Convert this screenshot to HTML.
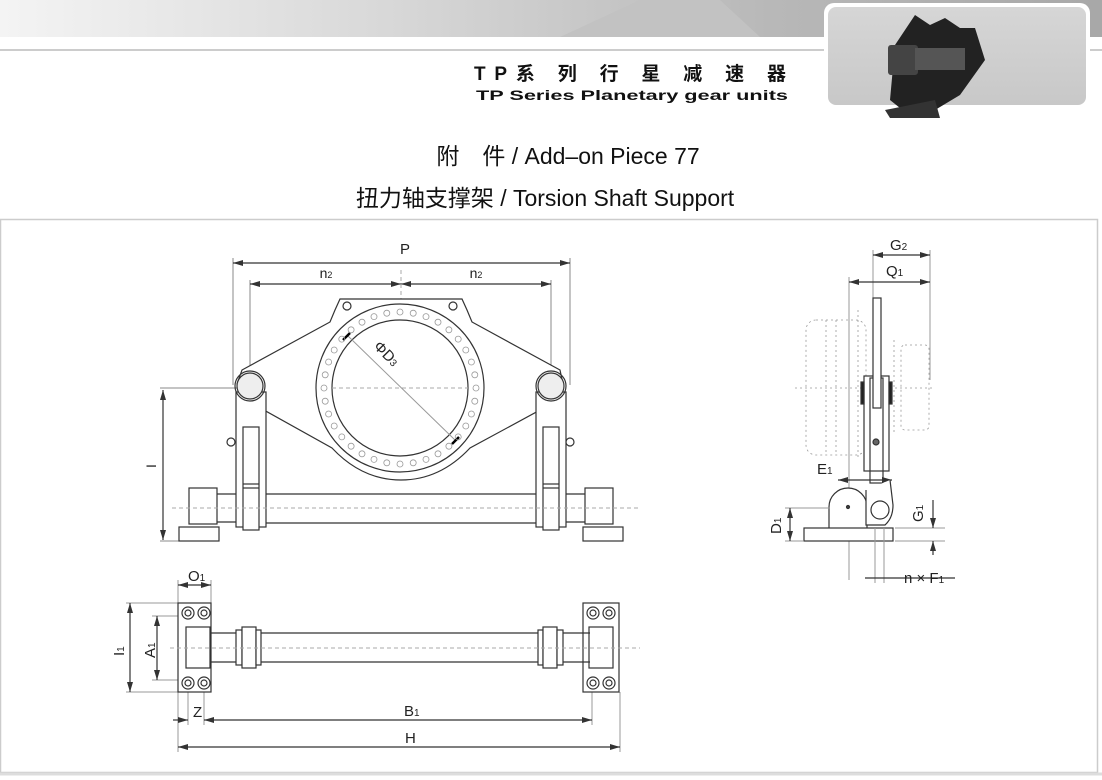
<!DOCTYPE html>
<html><head><meta charset="utf-8"><style>
html,body{margin:0;padding:0;background:#fff}
body{width:1102px;height:780px;overflow:hidden;position:relative;font-family:"Liberation Sans","Noto Sans CJK SC",sans-serif}
</style></head><body>
<svg width="1102" height="780" viewBox="0 0 1102 780" xmlns="http://www.w3.org/2000/svg" style="position:absolute;left:0;top:0">
<defs>
<linearGradient id="hg" x1="0" x2="1" y1="0" y2="0">
<stop offset="0" stop-color="#f4f4f4"/><stop offset="0.35" stop-color="#d8d8d8"/><stop offset="0.7" stop-color="#b8b8b8"/><stop offset="1" stop-color="#a8a8a8"/></linearGradient>
<linearGradient id="bg2" x1="0" x2="0" y1="0" y2="1"><stop offset="0" stop-color="#d6d6d6"/><stop offset="1" stop-color="#c8c8c8"/></linearGradient>
<marker id="a" viewBox="0 0 10 6" refX="10" refY="3" markerWidth="10" markerHeight="6" markerUnits="userSpaceOnUse" orient="auto-start-reverse"><path d="M0 0 L10 3 L0 6Z" fill="#333"/></marker>
</defs>
<rect x="0" y="0" width="1102" height="37" fill="url(#hg)"/>
<path d="M560 37 L640 0 L720 0 L760 37Z" fill="#c2c2c2"/>
<line x1="0" y1="50" x2="1102" y2="50" stroke="#ccc" stroke-width="2"/>
<rect x="824" y="3" width="266" height="106" rx="10" fill="#fff"/>
<rect x="828" y="7" width="258" height="98" rx="8" fill="url(#bg2)"/>
<g fill="#222">
<path d="M895 45 L915 15 L930 25 L945 18 L960 28 L975 28 L985 60 L960 95 L935 110 L905 112 L890 100 Z"/>
<rect x="888" y="45" width="30" height="30" rx="3" fill="#444"/>
<rect x="915" y="48" width="50" height="22" fill="#555"/>
<path d="M885 110 L935 100 L940 118 L890 118Z" fill="#333"/>
</g>
<text x="630" y="80" font-size="19" font-weight="bold" text-anchor="middle" fill="#111" textLength="312" lengthAdjust="spacing">TP系 列 行 星 减 速 器</text>
<text x="632" y="100" font-size="14" font-weight="bold" text-anchor="middle" fill="#111" textLength="312" lengthAdjust="spacingAndGlyphs">TP Series Planetary gear units</text>
<text x="568" y="164" font-size="23" text-anchor="middle" fill="#111">附　件 / Add–on Piece 77</text>
<text x="545" y="206" font-size="23" text-anchor="middle" fill="#111">扭力轴支撑架 / Torsion Shaft Support</text>
<rect x="0.5" y="219.5" width="1097" height="553" fill="none" stroke="#ccc" stroke-width="1.5"/>

<g stroke="#333" fill="none" stroke-width="1.2">
<line x1="233" y1="258" x2="233" y2="385" stroke="#888" stroke-width="1"/><line x1="570" y1="258" x2="570" y2="385" stroke="#888" stroke-width="1"/>
<line x1="233" y1="263" x2="570" y2="263" marker-start="url(#a)" marker-end="url(#a)"/>
<line x1="250" y1="280" x2="250" y2="380" stroke="#888" stroke-width="1"/><line x1="551" y1="280" x2="551" y2="380" stroke="#888" stroke-width="1"/>
<line x1="250" y1="284" x2="401" y2="284" marker-start="url(#a)" marker-end="url(#a)"/>
<line x1="401" y1="284" x2="551" y2="284" marker-start="url(#a)" marker-end="url(#a)"/>
<line x1="401" y1="270" x2="401" y2="475" stroke="#aaa" stroke-dasharray="4,3" stroke-width="1"/>
<line x1="160" y1="388" x2="245" y2="388" stroke="#888" stroke-width="1"/><line x1="160" y1="541" x2="180" y2="541" stroke="#888" stroke-width="1"/>
<line x1="163" y1="390" x2="163" y2="540" marker-start="url(#a)" marker-end="url(#a)"/>
<path d="M340 299 L462 299 L467 310 L472 322 L560 370 L563 384 Q560 398 552 402 L550 407 L542 409 L470 448 Q440 480 401 480 Q362 480 332 448 L262 409 L254 407 L251 400 Q240 398 237 384 L242 370 L330 322 L335 310 Z" fill="#fff"/>
<circle cx="400" cy="388" r="84"/>
<circle cx="400" cy="388" r="68"/>
<circle cx="347" cy="306" r="4"/><circle cx="453" cy="306" r="4"/>
<line x1="332" y1="388" x2="468" y2="388" stroke="#aaa" stroke-dasharray="4,3" stroke-width="1"/>
<line x1="348" y1="336" x2="455" y2="440" stroke="#999" stroke-width="1"/>
<line x1="343" y1="340" x2="350" y2="333" stroke="#000" stroke-width="2.5"/>
<line x1="452" y1="444" x2="459" y2="437" stroke="#000" stroke-width="2.5"/>
</g>
<g id="holes" fill="none" stroke="#999" stroke-width="0.8"></g>
<text x="373" y="353" font-size="15" fill="#222" transform="rotate(45 380 350)">ΦD<tspan font-size="10">3</tspan></text>
<text x="405" y="254" font-size="15" fill="#222" text-anchor="middle">P</text>
<text x="326" y="278" font-size="14" fill="#222" text-anchor="middle">n<tspan font-size="9">2</tspan></text>
<text x="476" y="278" font-size="14" fill="#222" text-anchor="middle">n<tspan font-size="9">2</tspan></text>
<text x="152" y="470" font-size="14" fill="#222" text-anchor="middle" transform="rotate(-90 152 466)">I</text>

<g stroke="#333" fill="#fff" stroke-width="1.2">
<rect x="236" y="392" width="30" height="135"/>
<rect x="243" y="427" width="16" height="103"/>
<line x1="243" y1="484" x2="259" y2="484"/><line x1="243" y1="488" x2="259" y2="488"/>
<rect x="536" y="392" width="30" height="135"/>
<rect x="543" y="427" width="16" height="103"/>
<line x1="543" y1="484" x2="559" y2="484"/><line x1="543" y1="488" x2="559" y2="488"/>
<circle cx="250" cy="386" r="13" fill="#eee"/><circle cx="250" cy="386" r="15" fill="none"/>
<circle cx="551" cy="386" r="13" fill="#eee"/><circle cx="551" cy="386" r="15" fill="none"/>
<circle cx="231" cy="442" r="4"/><circle cx="570" cy="442" r="4"/>
<line x1="266" y1="494" x2="536" y2="494"/><line x1="266" y1="523" x2="536" y2="523"/>
<line x1="217" y1="494" x2="236" y2="494"/><line x1="217" y1="522" x2="236" y2="522"/>
<line x1="566" y1="494" x2="585" y2="494"/><line x1="566" y1="522" x2="585" y2="522"/>
<rect x="189" y="488" width="28" height="36"/>
<rect x="179" y="527" width="40" height="14"/>
<rect x="585" y="488" width="28" height="36"/>
<rect x="583" y="527" width="40" height="14"/>
<line x1="172" y1="508" x2="640" y2="508" stroke="#aaa" stroke-dasharray="4,3" stroke-width="1"/>
</g>

<g stroke="#999" fill="none" stroke-width="0.8" stroke-dasharray="2,3">
<rect x="806" y="320" width="60" height="135" rx="10"/>
<line x1="826" y1="320" x2="826" y2="455"/><line x1="836" y1="320" x2="836" y2="455"/>
<line x1="858" y1="310" x2="858" y2="460"/>
<rect x="901" y="345" width="28" height="85" rx="4"/>
<line x1="894" y1="340" x2="894" y2="435"/>
<line x1="795" y1="388" x2="935" y2="388"/>
</g>
<g stroke="#333" fill="#fff" stroke-width="1.2">
<line x1="873" y1="250" x2="873" y2="298" stroke="#999" stroke-width="1"/><line x1="930" y1="250" x2="930" y2="380" stroke="#999" stroke-width="1"/>
<line x1="849" y1="277" x2="849" y2="580" stroke="#999" stroke-width="1"/>
<line x1="873" y1="255" x2="930" y2="255" marker-start="url(#a)" marker-end="url(#a)"/>
<line x1="849" y1="282" x2="930" y2="282" marker-start="url(#a)" marker-end="url(#a)"/>
<rect x="864" y="376" width="25" height="95"/>
<rect x="870" y="378" width="13" height="105" fill="none"/>
<rect x="873" y="298" width="8" height="110"/>
<rect x="861" y="382" width="3" height="22" fill="#222"/><rect x="889" y="382" width="3" height="22" fill="#222"/>
<circle cx="876" cy="442" r="3" fill="#666"/>
<line x1="838" y1="480" x2="892" y2="480" marker-start="url(#a)" marker-end="url(#a)"/>
<path d="M829 528 L829 507 A19 19 0 0 1 867 507 L867 528"/>
<circle cx="848" cy="507" r="1.5" fill="#444"/>
<path d="M866 490 L866 525 L885 525 Q893 518 893 505 L890 480"/>
<circle cx="880" cy="510" r="9"/>
<rect x="804" y="528" width="89" height="13"/>
<line x1="875" y1="528" x2="875" y2="583" stroke="#999" stroke-width="1"/><line x1="884" y1="528" x2="884" y2="583" stroke="#999" stroke-width="1"/>
<line x1="865" y1="578" x2="955" y2="578"/>
<line x1="785" y1="508" x2="830" y2="508" stroke="#999" stroke-width="1"/><line x1="785" y1="541" x2="803" y2="541" stroke="#999" stroke-width="1"/>
<line x1="790" y1="508" x2="790" y2="541" marker-start="url(#a)" marker-end="url(#a)"/>
<line x1="895" y1="528" x2="945" y2="528" stroke="#999" stroke-width="1"/><line x1="895" y1="541" x2="945" y2="541" stroke="#999" stroke-width="1"/>
<line x1="933" y1="500" x2="933" y2="528" marker-end="url(#a)"/>
<line x1="933" y1="555" x2="933" y2="541" marker-end="url(#a)"/>
</g>
<g font-size="15" fill="#222">
<text x="890" y="250">G<tspan font-size="10">2</tspan></text>
<text x="886" y="276">Q<tspan font-size="10">1</tspan></text>
<text x="817" y="474">E<tspan font-size="10">1</tspan></text>
<text x="904" y="583">n × F<tspan font-size="10">1</tspan></text>
<text x="0" y="0" transform="translate(781 534) rotate(-90)">D<tspan font-size="10">1</tspan></text>
<text x="0" y="0" transform="translate(923 522) rotate(-90)">G<tspan font-size="10">1</tspan></text>
</g>

<g stroke="#333" fill="#fff" stroke-width="1.2">
<line x1="178" y1="580" x2="178" y2="752" stroke="#999" stroke-width="1"/><line x1="211" y1="580" x2="211" y2="603" stroke="#999" stroke-width="1"/>
<line x1="620" y1="692" x2="620" y2="752" stroke="#999" stroke-width="1"/>
<line x1="178" y1="585" x2="211" y2="585" marker-start="url(#a)" marker-end="url(#a)"/>
<line x1="126" y1="603" x2="178" y2="603" stroke="#999" stroke-width="1"/><line x1="126" y1="692" x2="178" y2="692" stroke="#999" stroke-width="1"/>
<line x1="130" y1="603" x2="130" y2="692" marker-start="url(#a)" marker-end="url(#a)"/>
<line x1="152" y1="616" x2="186" y2="616" stroke="#999" stroke-width="1"/><line x1="152" y1="680" x2="186" y2="680" stroke="#999" stroke-width="1"/>
<line x1="157" y1="616" x2="157" y2="680" marker-start="url(#a)" marker-end="url(#a)"/>
<line x1="188" y1="690" x2="188" y2="725" stroke="#999" stroke-width="1"/><line x1="204" y1="690" x2="204" y2="725" stroke="#999" stroke-width="1"/><line x1="592" y1="690" x2="592" y2="725" stroke="#999" stroke-width="1"/>
<line x1="173" y1="720" x2="188" y2="720" marker-end="url(#a)"/>
<line x1="204" y1="720" x2="592" y2="720" marker-start="url(#a)" marker-end="url(#a)"/>
<line x1="178" y1="747" x2="620" y2="747" marker-start="url(#a)" marker-end="url(#a)"/>
<rect x="178" y="603" width="33" height="89"/>
<rect x="583" y="603" width="36" height="89"/>
<rect x="186" y="627" width="24" height="41"/>
<rect x="589" y="627" width="24" height="41"/>
<line x1="210" y1="633" x2="590" y2="633"/><line x1="210" y1="662" x2="590" y2="662"/>
<rect x="236" y="630" width="6" height="35"/><rect x="242" y="627" width="14" height="41"/><rect x="256" y="630" width="5" height="35"/>
<rect x="538" y="630" width="5" height="35"/><rect x="543" y="627" width="14" height="41"/><rect x="557" y="630" width="6" height="35"/>
<line x1="170" y1="648" x2="640" y2="648" stroke="#aaa" stroke-dasharray="4,3" stroke-width="1"/>
<g fill="none"><circle cx="188" cy="613" r="6"/><circle cx="188" cy="613" r="3"/><circle cx="204" cy="613" r="6"/><circle cx="204" cy="613" r="3"/>
<circle cx="188" cy="683" r="6"/><circle cx="188" cy="683" r="3"/><circle cx="204" cy="683" r="6"/><circle cx="204" cy="683" r="3"/>
<circle cx="593" cy="613" r="6"/><circle cx="593" cy="613" r="3"/><circle cx="609" cy="613" r="6"/><circle cx="609" cy="613" r="3"/>
<circle cx="593" cy="683" r="6"/><circle cx="593" cy="683" r="3"/><circle cx="609" cy="683" r="6"/><circle cx="609" cy="683" r="3"/></g>
</g>
<g font-size="15" fill="#222">
<text x="188" y="581">O<tspan font-size="10">1</tspan></text>
<text x="193" y="717">Z</text>
<text x="404" y="716">B<tspan font-size="10">1</tspan></text>
<text x="405" y="743">H</text>
<text x="0" y="0" transform="translate(124 656) rotate(-90)">I<tspan font-size="10">1</tspan></text>
<text x="0" y="0" transform="translate(155 658) rotate(-90)">A<tspan font-size="10">1</tspan></text>
</g>
<line x1="0" y1="774" x2="1102" y2="774" stroke="#ddd" stroke-width="3"/>
</svg>
<script>
var g=document.getElementById('holes');var s='';
for(var i=0;i<36;i++){var a=i*Math.PI*2/36;s+='<circle cx="'+(400+76*Math.cos(a)).toFixed(1)+'" cy="'+(388+76*Math.sin(a)).toFixed(1)+'" r="3"/>';}
g.innerHTML=s;
</script>
</body></html>
